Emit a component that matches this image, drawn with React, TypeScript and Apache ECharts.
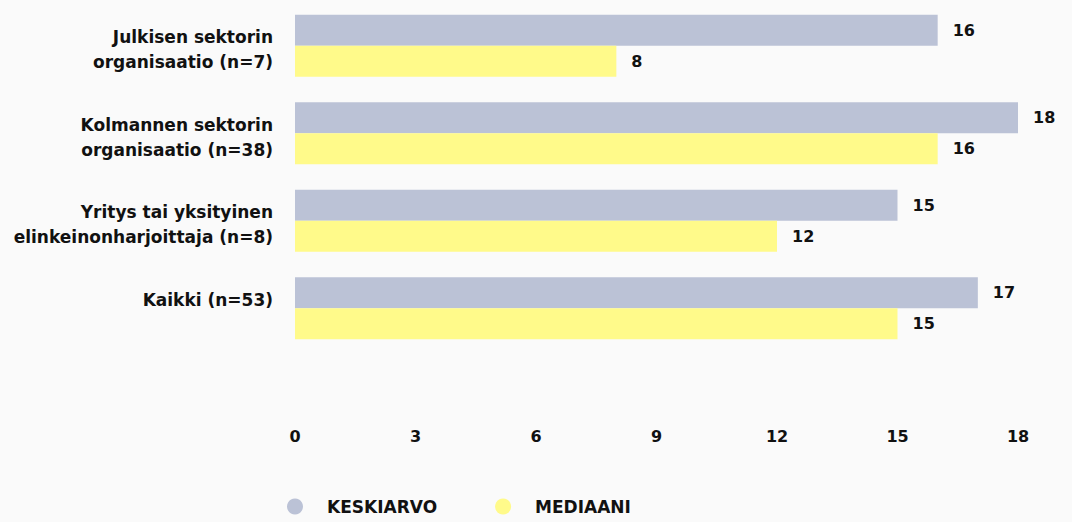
import React, { useEffect, useRef } from "react";
import * as echarts from "echarts";

const categories = [
  "Julkisen sektorin\norganisaatio (n=7)",
  "Kolmannen sektorin\norganisaatio (n=38)",
  "Yritys tai yksityinen\nelinkeinonharjoittaja (n=8)",
  "Kaikki (n=53)",
];
const keskiarvo = [16, 18, 15, 17];
const mediaani = [8, 16, 12, 15];
const seriesNames = ["KESKIARVO", "MEDIAANI"];

const FONT = "'DejaVu Sans', sans-serif";

export default function App() {
  const ref = useRef<HTMLDivElement>(null);
  useEffect(() => {
    const chart = echarts.init(ref.current!, null, { renderer: "svg" });
    const labelStyle = {
      show: true,
      position: "right" as const,
      distance: 15,
      color: "#111",
      fontFamily: FONT,
      fontWeight: 700,
      fontSize: 16,
    };
    const textBase = {
      color: "#111",
      fontFamily: FONT,
      fontWeight: 700,
      fontSize: 17,
      align: "right",
    };
    chart.setOption({
      animation: false,
      backgroundColor: "#fafafa",
      grid: { left: 295, right: 54, top: 2, height: 350, containLabel: false },
      xAxis: {
        type: "value",
        min: 0,
        max: 18,
        interval: 3,
        splitLine: { show: false },
        axisLine: { show: false },
        axisTick: { show: false },
        axisLabel: {
          margin: 76,
          color: "#111",
          fontFamily: FONT,
          fontWeight: 700,
          fontSize: 16,
        },
      },
      yAxis: {
        type: "category",
        data: categories,
        inverse: true,
        axisLine: { show: false },
        axisTick: { show: false },
        axisLabel: {
          margin: 22,
          ...textBase,
          lineHeight: 25,
          formatter: (v: string) => {
            const lines = v.split("\n");
            if (lines.length === 1) lines.push(" ");
            return "{s| }\n" + lines.map((l) => `{a|${l}}`).join("\n");
          },
          rich: {
            s: { ...textBase, fontSize: 4, lineHeight: 8 },
            a: { ...textBase, lineHeight: 25 },
          },
        },
      },
      legend: {
        left: 282,
        bottom: 2,
        itemWidth: 16,
        itemHeight: 16,
        itemGap: 58,
        icon: "circle",
        data: seriesNames,
        textStyle: {
          color: "#111",
          fontFamily: FONT,
          fontWeight: 700,
          fontSize: 17,
          padding: [0, 0, 0, 19],
        },
      },
      series: [
        {
          name: seriesNames[0],
          type: "bar",
          data: keskiarvo,
          barWidth: 31,
          barGap: "0%",
          itemStyle: { color: "#bbc2d6" },
          label: labelStyle,
        },
        {
          name: seriesNames[1],
          type: "bar",
          data: mediaani,
          barWidth: 31,
          barGap: "0%",
          itemStyle: { color: "#fffa8a" },
          label: labelStyle,
        },
      ],
    });
    return () => chart.dispose();
  }, []);
  return <div ref={ref} style={{ width: 1072, height: 522, position: "absolute", left: 0, top: 0 }} />;
}
